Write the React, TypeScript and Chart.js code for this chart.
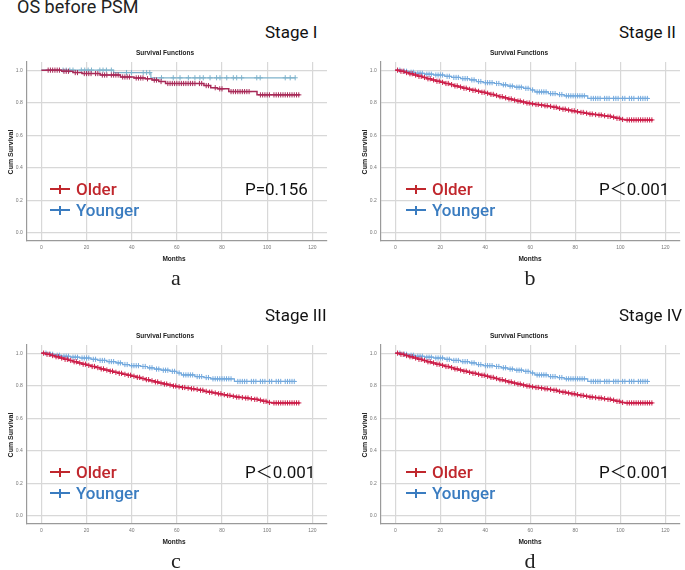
import React, { useEffect, useRef } from 'react';
import { Chart, registerables } from 'chart.js';
Chart.register(...registerables);

// ---------- Data ----------
const X_TICKS = [0, 20, 40, 60, 80, 100, 120];
const Y_TICKS = [0, 0.2, 0.4, 0.6, 0.8, 1.0];

// Stage I
const S1_OLDER_T = [0, 9, 14, 18, 26, 35, 41, 46, 49, 52, 55, 72, 75, 78, 83, 95.5, 114.5];
const S1_OLDER_S = [1, 0.993, 0.985, 0.979, 0.97, 0.958, 0.952, 0.947, 0.939, 0.93, 0.918, 0.905, 0.892, 0.885, 0.868, 0.848, 0.848];
const S1_OLDER_CENSOR = [3, 4, 5, 6, 7, 8, 10, 11, 12, 15, 16, 19, 20, 21, 22, 24, 25, 27, 28, 29, 31, 32, 33, 34, 36, 37, 38, 39, 42, 43, 44, 45, 47, 50, 51, 53, 56, 57, 58, 59, 60, 61, 62, 63, 64, 65, 66, 67, 68, 70, 71, 73, 74, 77, 79, 80, 84, 85, 86, 87, 88, 89, 90, 91, 92, 97, 98, 99, 100, 101, 103, 104, 105, 106, 107, 108, 109, 110, 111, 112, 113, 114];
const S1_YOUNGER_T = [0, 32, 48.5, 112.5];
const S1_YOUNGER_S = [1, 0.985, 0.953, 0.953];
const S1_YOUNGER_CENSOR = [9.6, 11, 12.6, 14, 17.7, 19.2, 20.7, 22.2, 25.9, 27.3, 28.8, 31, 37.7, 39.9, 45.1, 46.6, 48, 53.2, 58.4, 61.4, 65.1, 68, 70.2, 71.7, 74.7, 77.6, 79.1, 82.1, 85, 86.5, 88.7, 95.4, 96.9, 108, 110.2, 112.4];

// Stage II / III / IV (curves drawn identically in the figure)
const S2_OLDER_T = [0, 2, 4, 6, 8, 10, 12, 14, 16, 18, 20, 22, 24, 26, 28, 30, 32, 34, 36, 38, 40, 42, 44, 46, 48, 50, 52, 54, 56, 58, 60, 62, 64, 66, 68, 70, 72, 74, 76, 78, 80, 82, 84, 86, 88, 90, 92, 94, 96, 98, 100, 102, 114.5];
const S2_OLDER_S = [1, 0.993, 0.985, 0.978, 0.97, 0.962, 0.955, 0.947, 0.94, 0.932, 0.925, 0.918, 0.911, 0.903, 0.896, 0.889, 0.882, 0.876, 0.87, 0.864, 0.858, 0.851, 0.844, 0.837, 0.83, 0.823, 0.816, 0.81, 0.804, 0.798, 0.793, 0.789, 0.785, 0.781, 0.777, 0.772, 0.765, 0.76, 0.755, 0.75, 0.745, 0.74, 0.735, 0.73, 0.727, 0.724, 0.72, 0.716, 0.711, 0.704, 0.697, 0.694, 0.694];
const S2_OLDER_CENSOR = [1, 2.5, 3.5, 5, 6.5, 7.5, 9, 10.5, 11.5, 13, 14.5, 15.5, 17, 18.5, 19.5, 21, 22.5, 23.5, 25, 26.5, 27.5, 29, 30.5, 31.5, 33, 34.5, 35.5, 37, 38.5, 39.5, 41, 42.5, 43.5, 45, 46.5, 47.5, 49, 50.5, 51.5, 53, 54.5, 55.5, 57, 58.5, 59.5, 61, 62.5, 63.5, 65, 66.5, 67.5, 69, 70.5, 71.5, 73, 74.5, 75.5, 77, 78.5, 79.5, 81, 82.5, 83.5, 85, 86.5, 87.5, 89, 90.5, 91.5, 93, 94.5, 95.5, 97, 98.5, 99.5, 101, 103, 104, 105, 106, 107, 108, 109, 110, 111, 112, 113, 114];
const S2_YOUNGER_T = [0, 3, 6, 9, 13, 17, 22, 25, 29, 33, 36, 39, 44, 47, 50, 53, 57, 60, 62, 68, 72, 75, 85.5, 112.5];
const S2_YOUNGER_S = [1, 0.993, 0.987, 0.981, 0.975, 0.97, 0.962, 0.955, 0.948, 0.94, 0.93, 0.923, 0.918, 0.91, 0.902, 0.895, 0.888, 0.878, 0.866, 0.856, 0.85, 0.842, 0.826, 0.826];
const S2_YOUNGER_CENSOR = [2, 4, 5, 7, 8, 10, 11, 12, 14, 15, 16, 18, 19, 20, 21, 23, 24, 26, 27, 28, 30, 31, 32, 34, 35, 37, 38, 40, 41, 42, 43, 45, 46, 48, 49, 51, 52, 54, 55, 56, 58, 59, 61, 63, 64, 65, 66, 67, 69, 70, 71, 73, 74, 76, 77, 78, 79, 80, 81, 82, 83, 84, 87, 88, 89, 90, 91, 93, 94, 95, 97, 98, 99, 101, 102, 104, 105, 106, 108, 109, 110, 111, 112];

// ---------- helpers ----------
function stepAt(times: number[], surv: number[], t: number) {
  let v = surv[0];
  for (let i = 0; i < times.length; i++) {
    if (times[i] <= t) v = surv[i];
  }
  return v;
}
const curve = (t: number[], s: number[]) => t.map((x, i) => ({ x, y: s[i] }));
const censor = (t: number[], s: number[], c: number[]) => c.map((x) => ({ x, y: stepAt(t, s, x) }));

type PanelCfg = {
  key: string;
  dx: number;
  dy: number;
  canvasLeft: number;
  canvasWidth: number;
  padRight: number;
  stage: string;
  p: string;
  oT: number[]; oS: number[]; oC: number[];
  yT: number[]; yS: number[]; yC: number[];
  red: string; blue: string;
};

const PANELS: PanelCfg[] = [
  { key: 'a', dx: 0, dy: 0, canvasLeft: 0, canvasWidth: 340, padRight: 13, stage: 'Stage I', p: 'P=0.156',
    oT: S1_OLDER_T, oS: S1_OLDER_S, oC: S1_OLDER_CENSOR, yT: S1_YOUNGER_T, yS: S1_YOUNGER_S, yC: S1_YOUNGER_CENSOR,
    red: '#a82a58', blue: '#7fb3cc' },
  { key: 'b', dx: 354, dy: 0, canvasLeft: 354, canvasWidth: 331, padRight: 4, stage: 'Stage II', p: 'P＜0.001',
    oT: S2_OLDER_T, oS: S2_OLDER_S, oC: S2_OLDER_CENSOR, yT: S2_YOUNGER_T, yS: S2_YOUNGER_S, yC: S2_YOUNGER_CENSOR,
    red: '#cc1d48', blue: '#73a9dd' },
  { key: 'c', dx: 0, dy: 283, canvasLeft: 0, canvasWidth: 340, padRight: 13, stage: 'Stage III', p: 'P＜0.001',
    oT: S2_OLDER_T, oS: S2_OLDER_S, oC: S2_OLDER_CENSOR, yT: S2_YOUNGER_T, yS: S2_YOUNGER_S, yC: S2_YOUNGER_CENSOR,
    red: '#cc1d48', blue: '#73a9dd' },
  { key: 'd', dx: 354, dy: 283, canvasLeft: 354, canvasWidth: 331, padRight: 4, stage: 'Stage IV', p: 'P＜0.001',
    oT: S2_OLDER_T, oS: S2_OLDER_S, oC: S2_OLDER_CENSOR, yT: S2_YOUNGER_T, yS: S2_YOUNGER_S, yC: S2_YOUNGER_CENSOR,
    red: '#cc1d48', blue: '#73a9dd' },
];

const CANVAS_TOP = 55;
const CANVAS_H = 205;

function PanelChart({ cfg }: { cfg: PanelCfg }) {
  const ref = useRef<HTMLCanvasElement>(null);
  useEffect(() => {
    if (!ref.current) return;
    const chart = new Chart(ref.current, {
      type: 'scatter',
      data: {
        datasets: [
          { data: curve(cfg.oT, cfg.oS), showLine: true, stepped: true, borderColor: cfg.red, borderWidth: 1.5, pointRadius: 0, fill: false },
          { data: censor(cfg.oT, cfg.oS, cfg.oC), showLine: false, pointStyle: 'cross', pointRadius: 2.6, borderColor: cfg.red, backgroundColor: cfg.red, borderWidth: 1 },
          { data: curve(cfg.yT, cfg.yS), showLine: true, stepped: true, borderColor: cfg.blue, borderWidth: 1.2, pointRadius: 0, fill: false },
          { data: censor(cfg.yT, cfg.yS, cfg.yC), showLine: false, pointStyle: 'cross', pointRadius: 2.6, borderColor: cfg.blue, backgroundColor: cfg.blue, borderWidth: 1 },
        ] as any,
      },
      options: {
        animation: false,
        responsive: false,
        devicePixelRatio: 1,
        events: [],
        layout: { padding: { top: 5, right: cfg.padRight, left: 0, bottom: 0 } },
        plugins: { legend: { display: false }, tooltip: { enabled: false }, title: { display: false } },
        scales: {
          x: {
            type: 'linear',
            min: -6.5,
            max: 126.5,
            afterBuildTicks: (s: any) => { s.ticks = X_TICKS.map((v) => ({ value: v })); },
            afterFit: (s: any) => { s.height = 19; },
            grid: { color: '#d8d8d8', lineWidth: 1.2, drawTicks: false },
            border: { color: '#9a9a9a', width: 1.2 },
            ticks: { padding: 4, font: { size: 5, family: 'Liberation Sans' }, color: '#777', maxRotation: 0, callback: (v: any) => String(v) },
          },
          y: {
            type: 'linear',
            min: -0.05,
            max: 1.05,
            afterBuildTicks: (s: any) => { s.ticks = Y_TICKS.map((v) => ({ value: v })); },
            afterFit: (s: any) => { s.width = 26.7; },
            grid: { color: '#d8d8d8', lineWidth: 1.2, drawTicks: false },
            border: { color: '#9a9a9a', width: 1.2 },
            ticks: { padding: 4, font: { size: 5, family: 'Liberation Sans' }, color: '#777', callback: (v: any) => Number(v).toFixed(1) },
          },
        },
      } as any,
    });
    return () => chart.destroy();
  }, [cfg]);
  return (
    <canvas
      ref={ref}
      width={cfg.canvasWidth}
      height={CANVAS_H}
      style={{ position: 'absolute', left: cfg.canvasLeft, top: CANVAS_TOP + cfg.dy, width: cfg.canvasWidth, height: CANVAS_H }}
    />
  );
}

const abs = (o: React.CSSProperties): React.CSSProperties => ({ position: 'absolute', whiteSpace: 'nowrap', lineHeight: 1, ...o });
const centered = (x: number, y: number, o: React.CSSProperties): React.CSSProperties =>
  abs({ left: x, top: y, transform: 'translate(-50%, -50%)', ...o });
const leftMid = (x: number, y: number, o: React.CSSProperties): React.CSSProperties =>
  abs({ left: x, top: y, transform: 'translate(0, -50%)', ...o });

const BIG_FONT = 'Roboto, "Noto Sans CJK SC", sans-serif';
const SMALL_FONT = '"Liberation Sans", Arial, sans-serif';

function LegendMark({ x, y, color }: { x: number; y: number; color: string }) {
  return (
    <>
      <div style={abs({ left: x, top: y - 0.75, width: 20, height: 1.5, background: color })} />
      <div style={abs({ left: x + 9.25, top: y - 4.5, width: 1.5, height: 9, background: color })} />
    </>
  );
}

function Overlay({ cfg }: { cfg: PanelCfg }) {
  const { dx, dy } = cfg;
  const bx = cfg.dx > 0 ? 2 : 0;
  return (
    <>
      <div style={leftMid(265 + dx, 32 + dy, { fontFamily: BIG_FONT, fontSize: 17, color: '#111' })}>{cfg.stage}</div>
      <div style={centered(165 + dx, 53 + dy, { fontFamily: SMALL_FONT, fontSize: 6.5, fontWeight: 'bold', color: '#222' })}>Survival Functions</div>
      <div style={centered(10 + dx, 152 + dy, { fontFamily: SMALL_FONT, fontSize: 7, fontWeight: 'bold', color: '#222', transform: 'translate(-50%, -50%) rotate(-90deg)' })}>Cum Survival</div>
      <div style={centered(174 + dx + bx, 259 + dy, { fontFamily: SMALL_FONT, fontSize: 6.5, fontWeight: 'bold', color: '#222' })}>Months</div>
      <div style={centered(176 + dx, 278 + dy, { fontFamily: '"Liberation Serif", serif', fontSize: 22, color: '#222' })}>{cfg.key}</div>
      <LegendMark x={50 + dx + bx} y={189 + dy} color="#c0272d" />
      <LegendMark x={50 + dx + bx} y={210 + dy} color="#3a7cc0" />
      <div style={leftMid(76 + dx + bx, 189 + dy, { fontFamily: BIG_FONT, fontSize: 17, fontWeight: 500, color: '#c0272d' })}>Older</div>
      <div style={leftMid(76 + dx + bx, 210 + dy, { fontFamily: BIG_FONT, fontSize: 17, fontWeight: 500, color: '#3a7cc0' })}>Younger</div>
      <div style={leftMid(246 + dx - 1, 189 + dy, { fontFamily: BIG_FONT, fontSize: 17, color: '#111' })}>{cfg.p}</div>
    </>
  );
}

export default function App() {
  return (
    <div style={{ position: 'absolute', left: 0, top: 0, width: 685, height: 570, background: '#fff', overflow: 'hidden' }}>
      <div style={abs({ left: 17, top: -2, fontFamily: BIG_FONT, fontSize: 18, color: '#222' })}>OS before PSM</div>
      {PANELS.map((p) => (
        <React.Fragment key={p.key}>
          <PanelChart cfg={p} />
          <Overlay cfg={p} />
        </React.Fragment>
      ))}
    </div>
  );
}
